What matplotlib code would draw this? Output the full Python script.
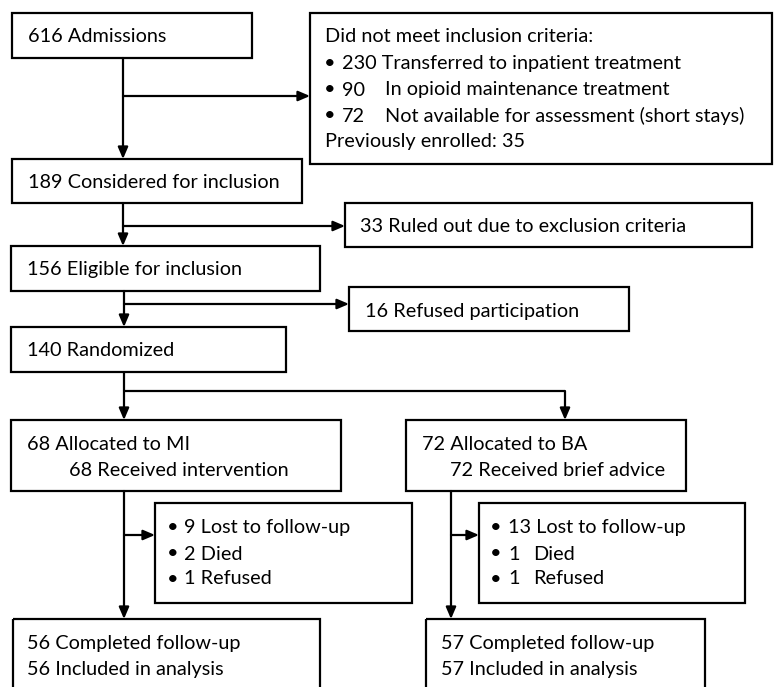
import matplotlib.pyplot as plt
from matplotlib.patches import Rectangle

plt.rcParams['font.family'] = ['Lato', 'DejaVu Sans']

# flow counts
admissions = 616
excluded_counts = [230, 90, 72]
excluded_labels = ['Transferred to inpatient treatment',
                   'In opioid maintenance treatment',
                   'Not available for assessment (short stays)']
previously_enrolled = 35
considered = 189
ruled_out = 33
eligible = 156
refused = 16
randomized = 140
arm_names = ['MI', 'BA']
arm_allocated = [68, 72]
arm_received_label = ['Received intervention', 'Received brief advice']
lost_labels = ['Lost to follow-up', 'Died', 'Refused']
arm_lost = [[9, 2, 1], [13, 1, 1]]
arm_completed = [56, 57]

FS = 14.3
LW = 1.6

fig = plt.figure(figsize=(7.77, 6.87), dpi=100)
ax = fig.add_axes([0, 0, 1, 1])
ax.set_xlim(0, 777)
ax.set_ylim(687, 0)
ax.axis('off')


def box(x0, y0, x1, y1):
    ax.add_patch(Rectangle((x0, y0), x1 - x0, y1 - y0, fill=False,
                           ec='black', lw=LW))


def txt(x, y, s, ha='left'):
    # +2 px: lato sits a little high with va=center
    ax.text(x, y + 2, s, fontsize=FS, va='center', ha=ha, color='black')


def arrow(x0, y0, x1, y1):
    ax.annotate('', xy=(x1, y1), xytext=(x0, y0),
                arrowprops=dict(arrowstyle='-|>,head_length=0.7,head_width=0.3',
                                color='black', lw=LW, shrinkA=0, shrinkB=0))


def line(xs, ys):
    ax.plot(xs, ys, color='black', lw=LW, solid_capstyle='butt')


# top part
box(12, 13, 252, 58)
txt(28, 35, f'{admissions} Admissions')

box(310, 13, 772, 164)
txt(325, 35, 'Did not meet inclusion criteria:')
rows = [62, 88, 114]
for i, (n, lab) in enumerate(zip(excluded_counts, excluded_labels)):
    txt(330, rows[i], '\u2022', ha='center')
    if i == 0:
        txt(342, rows[i], f'{n} {lab}')
    else:
        txt(342, rows[i], str(n))
        txt(385, rows[i], lab)
txt(325, 140, f'Previously enrolled: {previously_enrolled}')

arrow(123, 58, 123, 159)
arrow(123, 96, 310, 96)

box(12, 159, 302, 203)
txt(28, 181, f'{considered} Considered for inclusion')

box(345, 203, 752, 247)
txt(360, 225, f'{ruled_out} Ruled out due to exclusion criteria')
arrow(123, 203, 123, 246)
arrow(123, 226, 345, 226)

box(11, 246, 320, 291)
txt(27, 268, f'{eligible} Eligible for inclusion')

box(349, 287, 629, 331)
txt(365, 309, f'{refused} Refused participation')
arrow(124, 291, 124, 327)
arrow(124, 304, 349, 304)

box(11, 327, 286, 372)
txt(27, 349, f'{randomized} Randomized')

# split to arms
line([124, 124], [372, 391])
line([124, 565], [391, 391])
arrow(124, 391, 124, 420)
arrow(565, 391, 565, 420)

arms = [dict(bx=(11, 341), tx=27, tx2=69, lx=(155, 412), bul=173, num=184, lab=None,
             vx=124, cx=(13, 320), ctx=27),
        dict(bx=(406, 686), tx=422, tx2=450, lx=(479, 745), bul=496, num=508, lab=533,
             vx=451, cx=(426, 705), ctx=441)]

for k, a in enumerate(arms):
    box(a['bx'][0], 420, a['bx'][1], 491)
    txt(a['tx'], 443, f'{arm_allocated[k]} Allocated to {arm_names[k]}')
    txt(a['tx2'], 469, f'{arm_allocated[k]} {arm_received_label[k]}')

    box(a['lx'][0], 503, a['lx'][1], 603)
    for j, (n, lab) in enumerate(zip(arm_lost[k], lost_labels)):
        yy = [525, 552, 577][j]
        txt(a['bul'], yy, '\u2022', ha='center')
        if a['lab'] is None or j == 0:
            txt(a['num'], yy, f'{n} {lab}')
        else:
            txt(a['num'], yy, str(n))
            txt(a['lab'], yy, lab)

    arrow(a['vx'], 491, a['vx'], 619)
    arrow(a['vx'], 535, a['lx'][0], 535)

    box(a['cx'][0], 619, a['cx'][1], 700)
    txt(a['ctx'], 642, f'{arm_completed[k]} Completed follow-up')
    txt(a['ctx'], 667, f'{arm_completed[k]} Included in analysis')

fig.savefig('out.png', dpi=100)
